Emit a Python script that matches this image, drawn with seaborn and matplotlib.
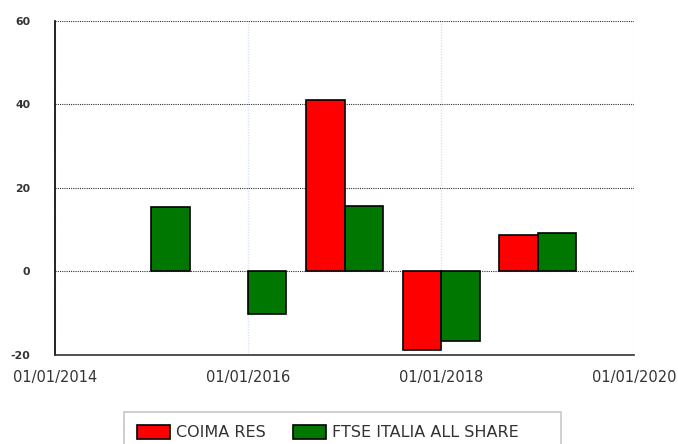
import pandas as pd
import numpy as np
import matplotlib
matplotlib.use("Agg")
import matplotlib.pyplot as plt
import matplotlib.dates as mdates
from matplotlib.patches import Rectangle
import seaborn as sns

# annual returns (%)
years = ["2015-01-01", "2016-01-01", "2017-01-01", "2018-01-01", "2019-01-01"]
coima_res = [np.nan, np.nan, 41.1, -18.7, 8.8]
ftse_italia = [15.5, -10.1, 15.7, -16.7, 9.1]
series_names = ["COIMA RES", "FTSE ITALIA ALL SHARE"]
colors = ["#ff0000", "#007700"]
x_ticks = ["2014-01-01", "2016-01-01", "2018-01-01", "2020-01-01"]
y_ticks = [-20, 0, 20, 40, 60]

dates = mdates.date2num(pd.to_datetime(years))
df = pd.DataFrame({
    "date": np.concatenate([dates, dates]),
    "value": coima_res + ftse_italia,
    "series": [series_names[0]] * len(years) + [series_names[1]] * len(years),
})

sns.set_style("white")
plt.rcParams["font.family"] = ["DejaVu Sans"]
plt.rcParams["axes.unicode_minus"] = False

W, H = 678, 444
fig = plt.figure(figsize=(W / 100, H / 100), dpi=100)
ax = fig.add_axes([55 / W, 1 - 355 / H, (634 - 55) / W, (355 - 20.7) / H])

sns.barplot(data=df, x="date", y="value", hue="series", hue_order=series_names,
            palette=colors, native_scale=True, width=0.8, dodge=True,
            edgecolor="black", linewidth=1.2, saturation=1, errorbar=None, ax=ax)

tick_nums = mdates.date2num(pd.to_datetime(x_ticks))
ax.set_xlim(tick_nums[0], tick_nums[-1])
ax.set_ylim(-20, 60)
ax.set_xticks(tick_nums)
ax.xaxis.set_major_formatter(mdates.DateFormatter("%d/%m/%Y"))
ax.set_yticks(y_ticks)
ax.set_xlabel("")
ax.set_ylabel("")

# grid
ax.set_axisbelow(True)
ax.yaxis.grid(True, color="#333333", linestyle=(0, (1, 1)), linewidth=0.8)
ax.xaxis.grid(True, color="#d5e3f3", linestyle=(0, (1, 1)), linewidth=1.0)

for s in ["top", "right"]:
    ax.spines[s].set_visible(False)
ax.spines["left"].set_color("black")
ax.spines["left"].set_linewidth(1.2)
ax.spines["bottom"].set_color("#333333")
ax.spines["bottom"].set_linewidth(1.2)

ax.tick_params(axis="y", length=14.4, width=1, color="#d5e3f3", labelsize=7.8,
               labelcolor="#333333", pad=3.5)
ax.tick_params(axis="x", length=9, width=1, color="#d5e3f3", labelsize=10.5,
               labelcolor="#333333", pad=2)
for lbl in ax.get_yticklabels():
    lbl.set_fontweight("bold")

# legend: content at left, frame drawn separately (it runs off the bottom)
sns.move_legend(ax, "upper left", bbox_to_anchor=(124 / W, 1 - 412 / H),
                bbox_transform=fig.transFigure, ncol=2, title=None, frameon=False,
                fontsize=11.5, handlelength=2.06, handleheight=0.95,
                handletextpad=0.38, columnspacing=1.75, borderpad=0.8,
                borderaxespad=0)
leg = ax.get_legend()
for t in leg.get_texts():
    t.set_color("#333333")
fig.patches.append(Rectangle((124 / W, -0.05), (561 - 124) / W, 0.05 + (444 - 412) / H,
                             transform=fig.transFigure, fill=False,
                             edgecolor="#cccccc", linewidth=1.3))

fig.savefig("out.png", dpi=100)
